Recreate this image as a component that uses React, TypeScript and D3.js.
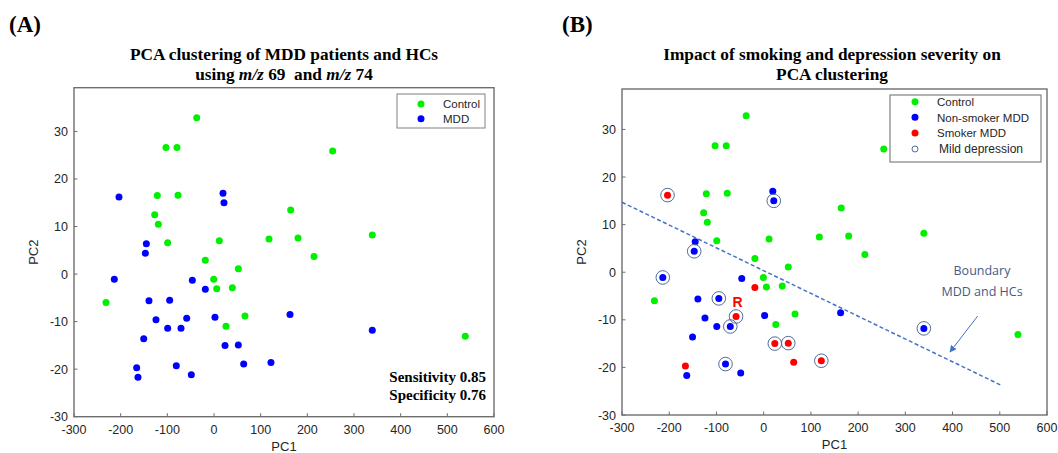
import React from "react";
import * as d3 from "d3";

// ---- Data ----
const controlPC1 = [-37, -102.9, -79.3, -121.5, -77.1, 164.3, -127.1, -119.3, -99.3, 11.4, 117.9, 180, -18.6, 254.3, 339.2, 214.3, 52.1, -0.6, 5.8, 39.3, -231.4, 66.4, 25.7, 538.5];
const controlPC2 = [32.9, 26.6, 26.6, 16.5, 16.6, 13.5, 12.5, 10.5, 6.6, 7.0, 7.4, 7.6, 2.9, 25.9, 8.2, 3.7, 1.1, -1.1, -3.1, -2.9, -6.0, -8.8, -11.0, -13.1];

const mddPC1 = [-203.6, 19.3, 21.4, -145, -147.1, -213.6, -46.4, -18.6, -139.3, -95, -124.3, -58.5, 2.1, 162.9, -99.3, -70.7, -150.6, 23.6, 52.1, -165.7, -80.8, 63.6, 122.1, -162.9, -48.6, 339.2];
const mddPC2 = [16.2, 17.0, 15.0, 6.4, 4.4, -1.1, -1.3, -3.2, -5.6, -5.5, -9.6, -9.3, -9.1, -8.5, -11.4, -11.4, -13.6, -15.0, -14.9, -19.7, -19.3, -18.9, -18.6, -21.7, -21.2, -11.8];
const mddSmoker = [1, 0, 0, 0, 0, 0, 0, 1, 0, 0, 0, 1, 0, 0, 0, 0, 0, 1, 1, 1, 0, 1, 1, 0, 0, 0];
const mddMild = [1, 0, 1, 0, 1, 1, 0, 0, 0, 1, 0, 1, 0, 0, 0, 1, 0, 1, 1, 0, 1, 0, 1, 0, 0, 1];

const xTicks = [-300, -200, -100, 0, 100, 200, 300, 400, 500, 600];
const yTicks = [-30, -20, -10, 0, 10, 20, 30];

const boundaryPC1 = [-300, 504];
const boundaryPC2 = [14.7, -23.8];

const legendA = ["Control", "MDD"];
const legendB = ["Control", "Non-smoker MDD", "Smoker MDD", "Mild depression"];

const GREEN = "#00f000";
const BLUE = "#0000ff";
const RED = "#ff0000";
const AXIS = "#6e6e6e";
const SANS = "'Liberation Sans', Arial, sans-serif";
const SERIF = "'Liberation Serif', 'Times New Roman', serif";
const TITLE = 17.3;

type Scales = { x: d3.ScaleLinear<number, number>; y: d3.ScaleLinear<number, number> };

function Axes({ x, y, xLabel, yLabel }: Scales & { xLabel: string; yLabel: string }) {
  const [x0, x1] = x.range();
  const [y0, y1] = y.range();
  const tick = 3.5;
  return (
    <g>
      <rect x={x0} y={y1} width={x1 - x0} height={y0 - y1} fill="none" stroke={AXIS} strokeWidth={1.4} />
      {xTicks.map((t) => (
        <g key={"x" + t}>
          <line x1={x(t)} x2={x(t)} y1={y0} y2={y0 - tick} stroke={AXIS} strokeWidth={1} />
          <text x={x(t)} y={y0 + 17} textAnchor="middle" fontFamily={SANS} fontSize={12.5} fill="#262626">
            {t}
          </text>
        </g>
      ))}
      {yTicks.map((t) => (
        <g key={"y" + t}>
          <line x1={x0} x2={x0 + tick} y1={y(t)} y2={y(t)} stroke={AXIS} strokeWidth={1} />
          <text x={x0 - 6} y={y(t) + 4.5} textAnchor="end" fontFamily={SANS} fontSize={12.5} fill="#262626">
            {t}
          </text>
        </g>
      ))}
      <text x={(x0 + x1) / 2} y={y0 + 34} textAnchor="middle" fontFamily={SANS} fontSize={13} fill="#262626">
        {xLabel}
      </text>
      <text
        transform={`translate(${x0 - 36},${(y0 + y1) / 2}) rotate(-90)`}
        textAnchor="middle"
        fontFamily={SANS}
        fontSize={13}
        fill="#262626"
      >
        {yLabel}
      </text>
    </g>
  );
}

export default function App() {
  const xA = d3.scaleLinear().domain([-300, 600]).range([74, 494]);
  const yA = d3.scaleLinear().domain([-30, 39.2]).range([416.7, 87.7]);
  const xB = d3.scaleLinear().domain([-300, 600]).range([622, 1047]);
  const yB = d3.scaleLinear().domain([-30, 38.5]).range([415, 89]);
  const r = 3.5;

  const mdd = mddPC1.map((v, i) => ({ x: v, y: mddPC2[i], smoker: !!mddSmoker[i], mild: !!mddMild[i] }));
  const ctrl = controlPC1.map((v, i) => ({ x: v, y: controlPC2[i] }));

  const line = d3.line<number>().x((_, i) => xB(boundaryPC1[i])).y((v) => yB(v));

  return (
    <svg width={1058} height={453} style={{ display: "block", position: "absolute", left: 0, top: 0 }}>
      <rect width={1058} height={453} fill="#fff" />
      {/* Panel A */}
      <text x={9} y={32} fontFamily={SERIF} fontWeight="bold" fontSize={23}>(A)</text>
      <text x={284} y={60} textAnchor="middle" fontFamily={SERIF} fontWeight="bold" fontSize={TITLE}>
        PCA clustering of MDD patients and HCs
      </text>
      <text x={284} y={80} textAnchor="middle" fontFamily={SERIF} fontWeight="bold" fontSize={TITLE} style={{ whiteSpace: "pre" }}>
        using <tspan fontStyle="italic">m/z</tspan> 69{"  "}and <tspan fontStyle="italic">m/z</tspan> 74
      </text>
      <Axes x={xA} y={yA} xLabel="PC1" yLabel="PC2" />
      {ctrl.map((p, i) => (
        <circle key={"ca" + i} cx={xA(p.x)} cy={yA(p.y)} r={r} fill={GREEN} />
      ))}
      {mdd.map((p, i) => (
        <circle key={"ma" + i} cx={xA(p.x)} cy={yA(p.y)} r={r} fill={BLUE} />
      ))}
      <g>
        <rect x={397} y={94} width={88} height={34} fill="#fff" stroke="#808080" strokeWidth={1} />
        {legendA.map((t, i) => (
          <g key={t}>
            <circle cx={421} cy={104 + i * 14.7} r={r} fill={i === 0 ? GREEN : BLUE} />
            <text x={443} y={108.2 + i * 14.7} fontFamily={SANS} fontSize={11.5} fill="#262626">{t}</text>
          </g>
        ))}
      </g>
      <text x={486} y={382} textAnchor="end" fontFamily={SERIF} fontWeight="bold" fontSize={15}>Sensitivity 0.85</text>
      <text x={486} y={400} textAnchor="end" fontFamily={SERIF} fontWeight="bold" fontSize={15}>Specificity 0.76</text>

      {/* Panel B */}
      <text x={562} y={32} fontFamily={SERIF} fontWeight="bold" fontSize={23}>(B)</text>
      <text x={832} y={60} textAnchor="middle" fontFamily={SERIF} fontWeight="bold" fontSize={TITLE}>
        Impact of smoking and depression severity on
      </text>
      <text x={832} y={80} textAnchor="middle" fontFamily={SERIF} fontWeight="bold" fontSize={TITLE}>
        PCA clustering
      </text>
      <Axes x={xB} y={yB} xLabel="PC1" yLabel="PC2" />
      {ctrl.map((p, i) => (
        <circle key={"cb" + i} cx={xB(p.x)} cy={yB(p.y)} r={r} fill={GREEN} />
      ))}
      {mdd.map((p, i) => (
        <circle key={"mb" + i} cx={xB(p.x)} cy={yB(p.y)} r={r} fill={p.smoker ? RED : BLUE} />
      ))}
      {mdd.filter((p) => p.mild).map((p, i) => (
        <circle key={"ring" + i} cx={xB(p.x)} cy={yB(p.y)} r={6.8} fill="none" stroke="#4f6c98" strokeWidth={1} />
      ))}
      <path d={line(boundaryPC2) || ""} fill="none" stroke="#4472c4" strokeWidth={1.5} strokeDasharray="4,2.5" />
      <defs>
        <marker id="arr" viewBox="0 0 10 10" refX={9} refY={5} markerWidth={7} markerHeight={7} orient="auto">
          <path d="M0,0 L10,5 L0,10 z" fill="#4472c4" />
        </marker>
      </defs>
      <line x1={977.7} y1={316} x2={950} y2={352} stroke="#4472c4" strokeWidth={1} markerEnd="url(#arr)" />
      <text x={982} y={275} textAnchor="middle" fontFamily="'Open Sans', sans-serif" fontSize={12.5} fill="#3f5c88">Boundary</text>
      <text x={982} y={296} textAnchor="middle" fontFamily="'Open Sans', sans-serif" fontSize={12.5} fill="#3f5c88">MDD and HCs</text>
      <text x={737.5} y={307} textAnchor="middle" fontFamily={SANS} fontWeight="bold" fontSize={14} fill={RED}>R</text>
      <g>
        <rect x={890} y={95} width={151} height={67} fill="#fff" stroke="#808080" strokeWidth={1.2} />
        {legendB.map((t, i) => (
          <g key={t}>
            {i < 3 ? (
              <circle cx={915} cy={101.7 + i * 15.6} r={r} fill={[GREEN, BLUE, RED][i]} />
            ) : (
              <circle cx={915} cy={149} r={3} fill="none" stroke="#4f6c98" strokeWidth={1} />
            )}
            <text x={i < 3 ? 937 : 939} y={105.9 + i * 15.6 + (i === 3 ? 0.6 : 0)} fontFamily={SANS} fontSize={i === 3 ? 12 : 11.5} fill="#262626">{t}</text>
          </g>
        ))}
      </g>
    </svg>
  );
}
